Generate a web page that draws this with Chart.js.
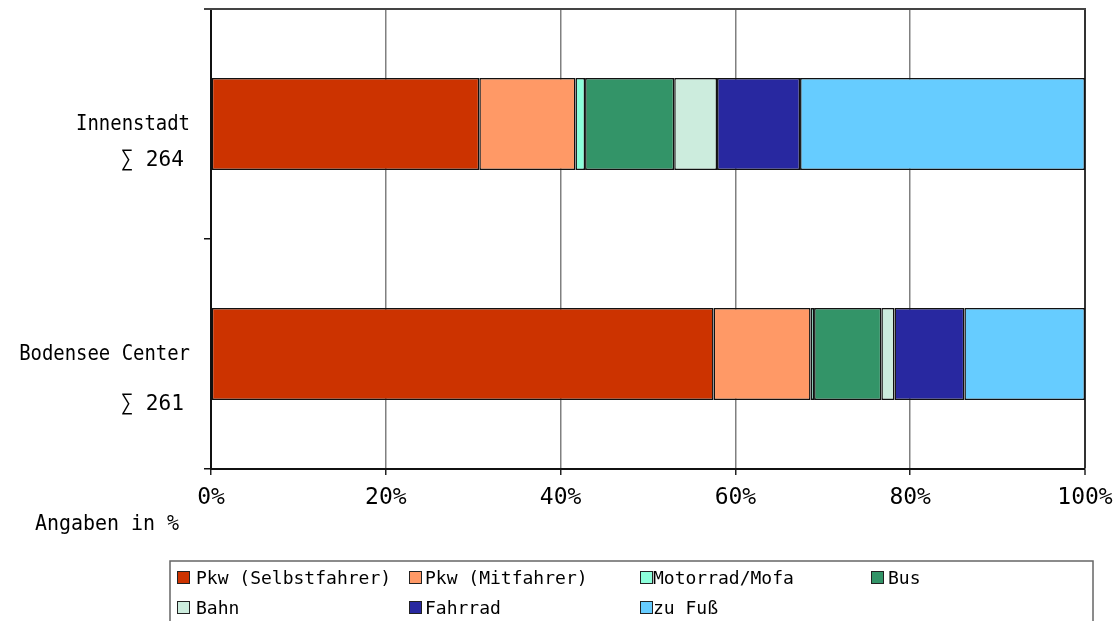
<!DOCTYPE html>
<html>
<head>
<meta charset="utf-8">
<script src="https://cdn.jsdelivr.net/npm/chart.js@4"></script>
<style>
  html, body { margin: 0; padding: 0; background: #fff; }
  #wrap { width: 1118px; height: 621px; position: relative; }
</style>
</head>
<body>
<div id="wrap"><canvas id="c" width="1118" height="621"></canvas></div>
<script>
// Verkehrsmittelwahl nach Standort (Anteile in %)
const locations = ['Innenstadt', 'Bodensee Center'];
const totals = [264, 261];
const modes = ['Pkw (Selbstfahrer)', 'Pkw (Mitfahrer)', 'Motorrad/Mofa', 'Bus', 'Bahn', 'Fahrrad', 'zu Fuß'];
const pkwSelbst   = [30.7, 57.5];
const pkwMit      = [11.0, 11.1];
const motorrad    = [1.1, 0.4];
const bus         = [10.2, 7.7];
const bahn        = [4.9, 1.5];
const fahrrad     = [9.5, 8.0];
const zuFuss      = [32.6, 13.8];
const xTicks = [0, 20, 40, 60, 80, 100];
const axisNote = 'Angaben in %';

const seriesValues = [pkwSelbst, pkwMit, motorrad, bus, bahn, fahrrad, zuFuss];
const colors = ['#CC3300', '#FF9966', '#8CFFDB', '#339468', '#CCECDD', '#2828A0', '#66CCFF'];

const MONO = '"DejaVu Sans Mono", "Liberation Mono", monospace';

// schmal gesetzter Text (horizontal gestaucht)
function narrowText(ctx, text, x, y, size, sx) {
  ctx.save();
  ctx.font = size + 'px ' + MONO;
  ctx.translate(x, y);
  ctx.scale(sx, 1);
  ctx.fillText(text, 0, 0);
  ctx.restore();
}

// Kategorienbeschriftung links der Balken (Name + Summe)
const sumOffsets = [36, 50];
const categoryLabels = {
  id: 'categoryLabels',
  afterDraw(chart) {
    const ctx = chart.ctx;
    const ys = chart.scales.y;
    ctx.save();
    ctx.fillStyle = '#000';
    ctx.textAlign = 'right';
    ctx.textBaseline = 'middle';
    locations.forEach((name, i) => {
      const y = ys.getPixelForValue(i);
      narrowText(ctx, name, 190, y, 22, 0.86);
      narrowText(ctx, '\u2211 ' + totals[i], 184, y + sumOffsets[i], 22, 0.96);
    });
    ctx.textAlign = 'left';
    ctx.textBaseline = 'alphabetic';
    narrowText(ctx, axisNote, 35, 530, 21, 0.95);
    ctx.restore();
  }
};

// obere Rahmenlinie der Zeichenfläche
const topFrame = {
  id: 'topFrame',
  afterDatasetsDraw(chart) {
    const { ctx, chartArea } = chart;
    ctx.save();
    ctx.strokeStyle = '#444';
    ctx.lineWidth = 2;
    ctx.beginPath();
    ctx.moveTo(chartArea.left - 7, chartArea.top);
    ctx.lineTo(chartArea.right + 1, chartArea.top);
    ctx.stroke();
    ctx.restore();
  }
};

// Legende im Kasten unter dem Diagramm, 4 Spalten
const legendBox = {
  id: 'legendBox',
  afterDraw(chart) {
    const ctx = chart.ctx;
    const markerX = [177, 409, 640, 871];
    const textX = [196, 425, 653, 888];
    const rowTop = [571, 601];
    const size = 13;
    ctx.save();
    ctx.strokeStyle = '#666';
    ctx.lineWidth = 1.5;
    ctx.strokeRect(170, 561, 923, 100);
    ctx.font = '18px ' + MONO;
    ctx.textBaseline = 'alphabetic';
    ctx.textAlign = 'left';
    chart.data.datasets.forEach((ds, i) => {
      const col = i % 4, row = Math.floor(i / 4);
      const mx = markerX[col], my = rowTop[row];
      ctx.fillStyle = ds.backgroundColor;
      ctx.fillRect(mx, my, size, size);
      ctx.strokeStyle = '#222';
      ctx.lineWidth = 1;
      ctx.strokeRect(mx + 0.5, my + 0.5, size - 1, size - 1);
      ctx.fillStyle = '#000';
      ctx.fillText(ds.label, textX[col], my + 13);
    });
    ctx.restore();
  }
};

new Chart(document.getElementById('c'), {
  type: 'bar',
  data: {
    labels: locations,
    datasets: modes.map((m, i) => ({
      label: m,
      data: seriesValues[i],
      backgroundColor: colors[i],
      borderColor: '#111',
      borderWidth: 1.5,
      borderSkipped: false,
      barPercentage: 0.4,
      categoryPercentage: 1.0
    }))
  },
  options: {
    indexAxis: 'y',
    responsive: false,
    animation: false,
    devicePixelRatio: 1,
    layout: { padding: { top: 9, right: 33, bottom: 0, left: 0 } },
    plugins: { legend: { display: false }, tooltip: { enabled: false } },
    scales: {
      x: {
        stacked: true,
        min: 0,
        max: 100,
        afterBuildTicks(scale) { scale.ticks = xTicks.map(v => ({ value: v })); },
        afterFit(scale) {
          scale.height = 152;
          scale.paddingLeft = 0;
          scale.paddingRight = 0;
        },
        ticks: {
          callback: v => v + '%',
          color: '#000',
          font: { family: MONO, size: 23 },
          padding: 9,
          maxRotation: 0
        },
        grid: {
          color: ctx => (ctx.tick && ctx.tick.value === 100) ? '#333' : '#808080',
          lineWidth: ctx => (ctx.tick && ctx.tick.value === 100) ? 2 : 1.5,
          tickLength: 6,
          tickColor: '#222',
          tickWidth: 1.5
        },
        border: { color: '#111', width: 2 }
      },
      y: {
        stacked: true,
        afterFit(scale) { scale.width = 211; },
        ticks: { display: false },
        grid: {
          drawOnChartArea: false,
          offset: true,
          tickLength: 7,
          tickColor: '#111',
          lineWidth: 1.5
        },
        border: { color: '#111', width: 2 }
      }
    }
  },
  plugins: [categoryLabels, topFrame, legendBox]
});
</script>
</body>
</html>
